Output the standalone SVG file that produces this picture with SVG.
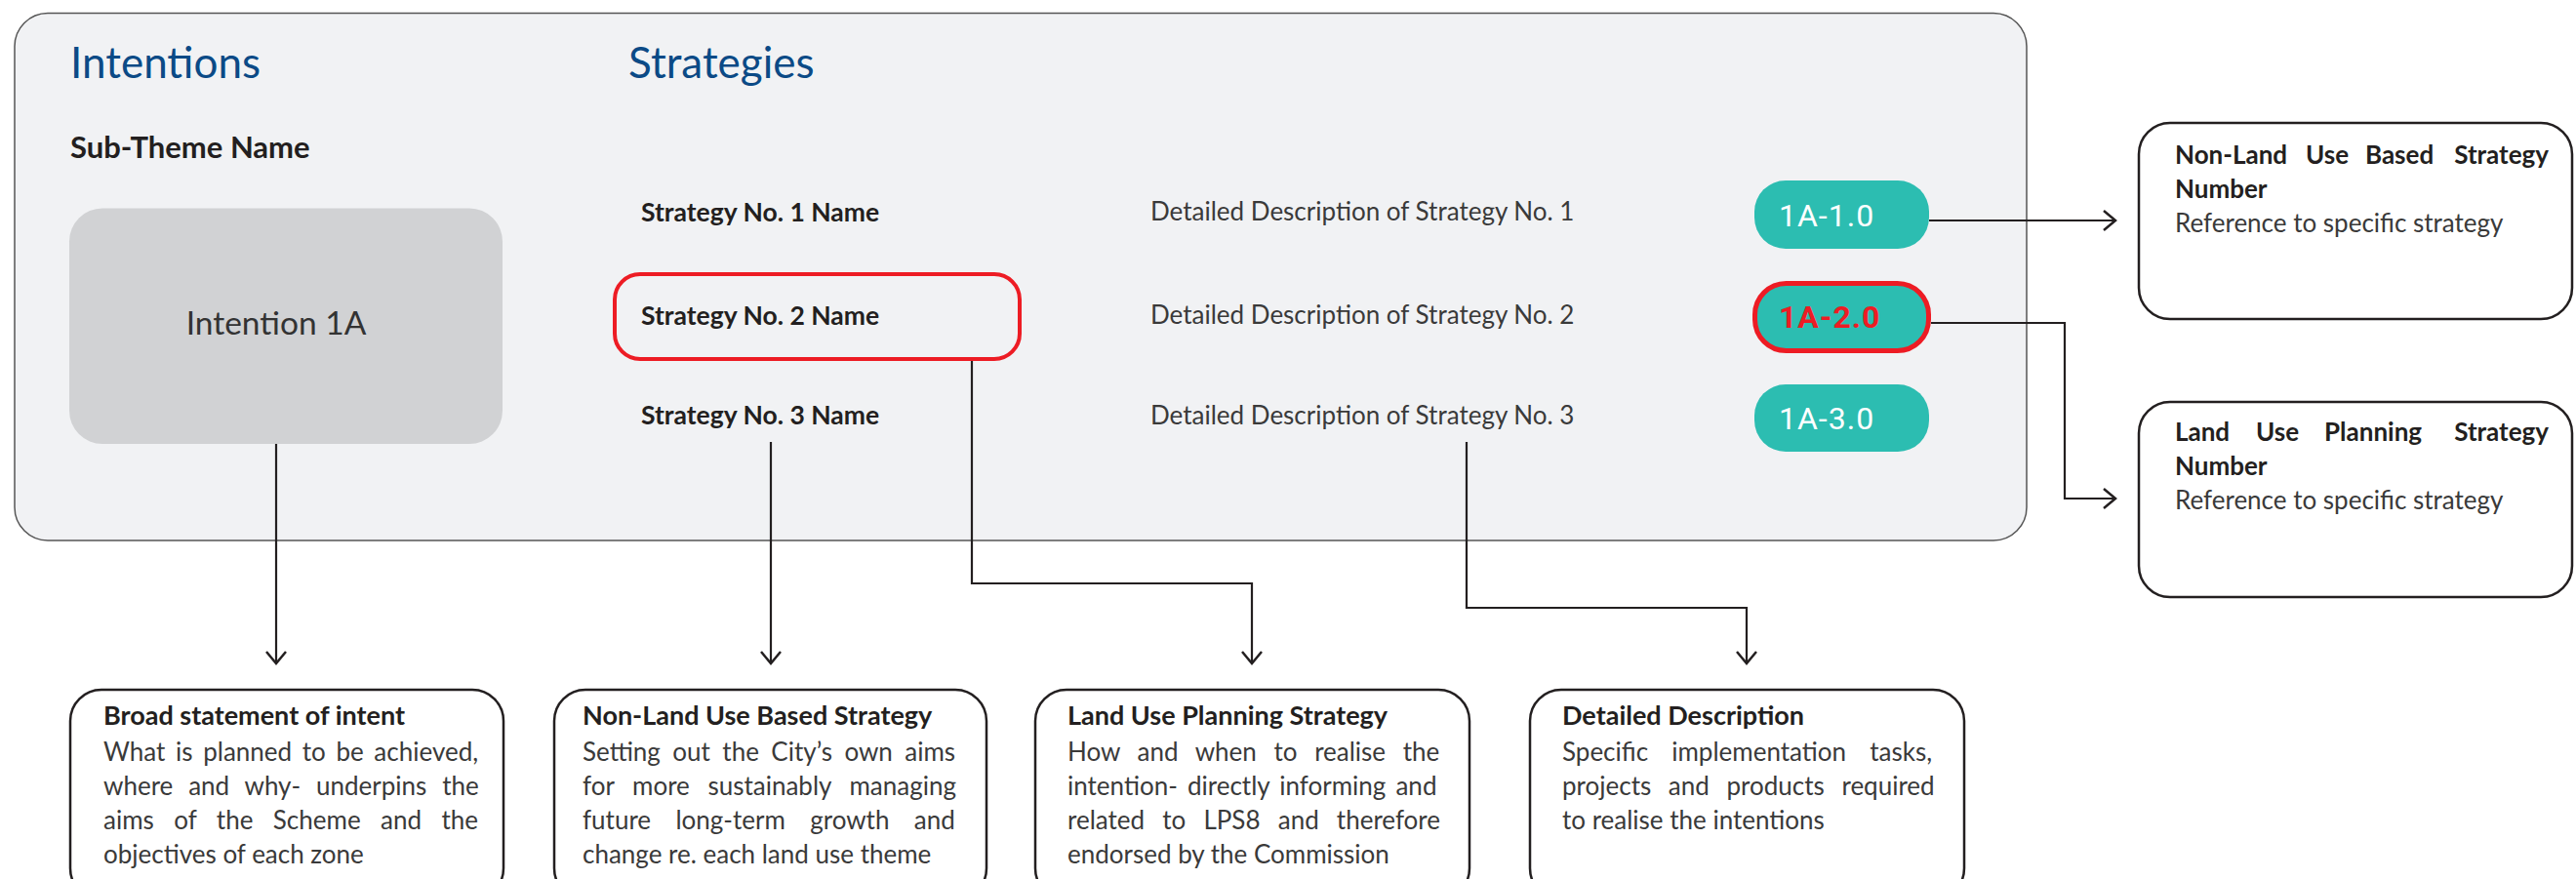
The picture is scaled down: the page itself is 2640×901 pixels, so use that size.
<svg xmlns="http://www.w3.org/2000/svg" width="2640" height="901" viewBox="0 0 2640 901">
<defs>
<style>
.t{font-family:Lato,"Liberation Sans",sans-serif;fill:#3a3a3a;font-size:26px}
.b{font-family:Lato,"Liberation Sans",sans-serif;fill:#231f20;font-weight:700;font-size:26px}
.bh{font-size:27px}
.sn{font-size:26.5px}
.h{font-family:Lato,"Liberation Sans",sans-serif;fill:#0b4a86;font-size:44px}
.pill{fill:#2cbdb1}
.pt{font-family:Roboto,"Liberation Sans",sans-serif;fill:#ffffff;font-size:32px;letter-spacing:1px}
.box{fill:#ffffff;stroke:#231f20;stroke-width:2.5}
.c{fill:none;stroke:#231f20;stroke-width:2.2}
</style>
<marker id="ah" markerUnits="userSpaceOnUse" markerWidth="30" markerHeight="30" viewBox="-15 -15 30 30" refX="0" refY="0" orient="auto">
<path d="M-12,-10 L0,0 L-12,10" fill="none" stroke="#231f20" stroke-width="2.5"/>
</marker>
</defs>
<rect width="2640" height="901" fill="#ffffff"/>
<g id="panel">
<rect x="15" y="13.5" width="2062" height="540.5" rx="34" fill="#f1f2f4" stroke="#555555" stroke-width="1.5"/>
<text class="h" x="72" y="80">Intentions</text>
<text class="h" x="644" y="80">Strategies</text>
<text class="b" x="72" y="162" style="font-size:31px">Sub-Theme Name</text>
</g>
<g id="intention">
<rect x="71" y="213.5" width="444" height="241.5" rx="34" fill="#d1d2d4"/>
<text class="t" x="283" y="343" text-anchor="middle" style="font-size:33.5px;fill:#333333">Intention 1A</text>
</g>
<g id="strategy1"><text class="b sn" x="657" y="227">Strategy No. 1 Name</text></g>
<g id="strategy2">
<rect x="630" y="281" width="415" height="87" rx="26" fill="none" stroke="#ed1c24" stroke-width="4"/>
<text class="b sn" x="657" y="333">Strategy No. 2 Name</text>
</g>
<g id="strategy3"><text class="b sn" x="657" y="435">Strategy No. 3 Name</text></g>
<g id="desc1"><text class="t" x="1179" y="226">Detailed Description of Strategy No. 1</text></g>
<g id="desc2"><text class="t" x="1179" y="332">Detailed Description of Strategy No. 2</text></g>
<g id="desc3"><text class="t" x="1179" y="435">Detailed Description of Strategy No. 3</text></g>
<g id="pill1">
<rect class="pill" x="1798" y="185" width="179" height="70" rx="32"/>
<text class="pt" x="1823" y="232">1A-1.0</text>
</g>
<g id="pill2">
<rect class="pill" x="1798.5" y="290.5" width="178" height="69" rx="32" stroke="#ed1c24" stroke-width="5"/>
<text class="pt" x="1823" y="336" style="fill:#ed1c24;font-weight:700">1A-2.0</text>
</g>
<g id="pill3">
<rect class="pill" x="1798" y="394" width="179" height="69" rx="32"/>
<text class="pt" x="1823" y="440">1A-3.0</text>
</g>
<g id="ref-nonland">
<rect class="box" x="2192" y="126" width="444" height="201" rx="32"/>
<text class="b" y="168"><tspan x="2229">Non-Land</tspan><tspan x="2363">Use</tspan><tspan x="2424">Based</tspan><tspan x="2612" text-anchor="end">Strategy</tspan></text>
<text class="b" x="2229" y="203">Number</text>
<text class="t" x="2229" y="238">Reference to specific strategy</text>
</g>
<g id="ref-landuse">
<rect class="box" x="2192" y="412" width="444" height="200" rx="32"/>
<text class="b" y="452"><tspan x="2229">Land</tspan><tspan x="2312">Use</tspan><tspan x="2382">Planning</tspan><tspan x="2612" text-anchor="end">Strategy</tspan></text>
<text class="b" x="2229" y="487">Number</text>
<text class="t" x="2229" y="522">Reference to specific strategy</text>
</g>
<g id="info-intent">
<rect class="box" x="72" y="707" width="444" height="215" rx="32"/>
<text class="b bh" x="106" y="743">Broad statement of intent</text>
<text class="t" x="106" y="780" word-spacing="4">What is planned to be achieved,</text>
<text class="t" x="106" y="815" word-spacing="9.2">where and why- underpins the</text>
<text class="t" x="106" y="850" word-spacing="13.8">aims of the Scheme and the</text>
<text class="t" x="106" y="885">objectives of each zone</text>
</g>
<g id="info-nonland">
<rect class="box" x="568" y="707" width="443" height="215" rx="32"/>
<text class="b bh" x="597" y="743">Non-Land Use Based Strategy</text>
<text class="t" x="597" y="780" word-spacing="5.8">Setting out the City’s own aims</text>
<text class="t" x="597" y="815" word-spacing="12">for more sustainably managing</text>
<text class="t" x="597" y="850" word-spacing="18.7">future long-term growth and</text>
<text class="t" x="597" y="885">change re. each land use theme</text>
</g>
<g id="info-landuse">
<rect class="box" x="1061" y="707" width="445" height="215" rx="32"/>
<text class="b bh" x="1094" y="743">Land Use Planning Strategy</text>
<text class="t" x="1094" y="780" word-spacing="11">How and when to realise the</text>
<text class="t" x="1094" y="815" word-spacing="3.5">intention- directly informing and</text>
<text class="t" x="1094" y="850" word-spacing="11.5">related to LPS8 and therefore</text>
<text class="t" x="1094" y="885">endorsed by the Commission</text>
</g>
<g id="info-detail">
<rect class="box" x="1568" y="707" width="445" height="215" rx="32"/>
<text class="b bh" x="1601" y="743">Detailed Description</text>
<text class="t" x="1601" y="780" word-spacing="17.5">Specific implementation tasks,</text>
<text class="t" x="1601" y="815" word-spacing="11">projects and products required</text>
<text class="t" x="1601" y="850">to realise the intentions</text>
</g>
<g id="connectors">
<path class="c" d="M283,455 V680" marker-end="url(#ah)"/>
<path class="c" d="M790,453 V680" marker-end="url(#ah)"/>
<path class="c" d="M996,370 V598 H1283 V680" marker-end="url(#ah)"/>
<path class="c" d="M1503,453 V623 H1790 V680" marker-end="url(#ah)"/>
<path class="c" d="M1977,226 H2168" stroke-width="2.6" marker-end="url(#ah)"/>
<path class="c" d="M1979,331 H2116 V511 H2168" stroke-width="2.6" marker-end="url(#ah)"/>
</g>
</svg>
